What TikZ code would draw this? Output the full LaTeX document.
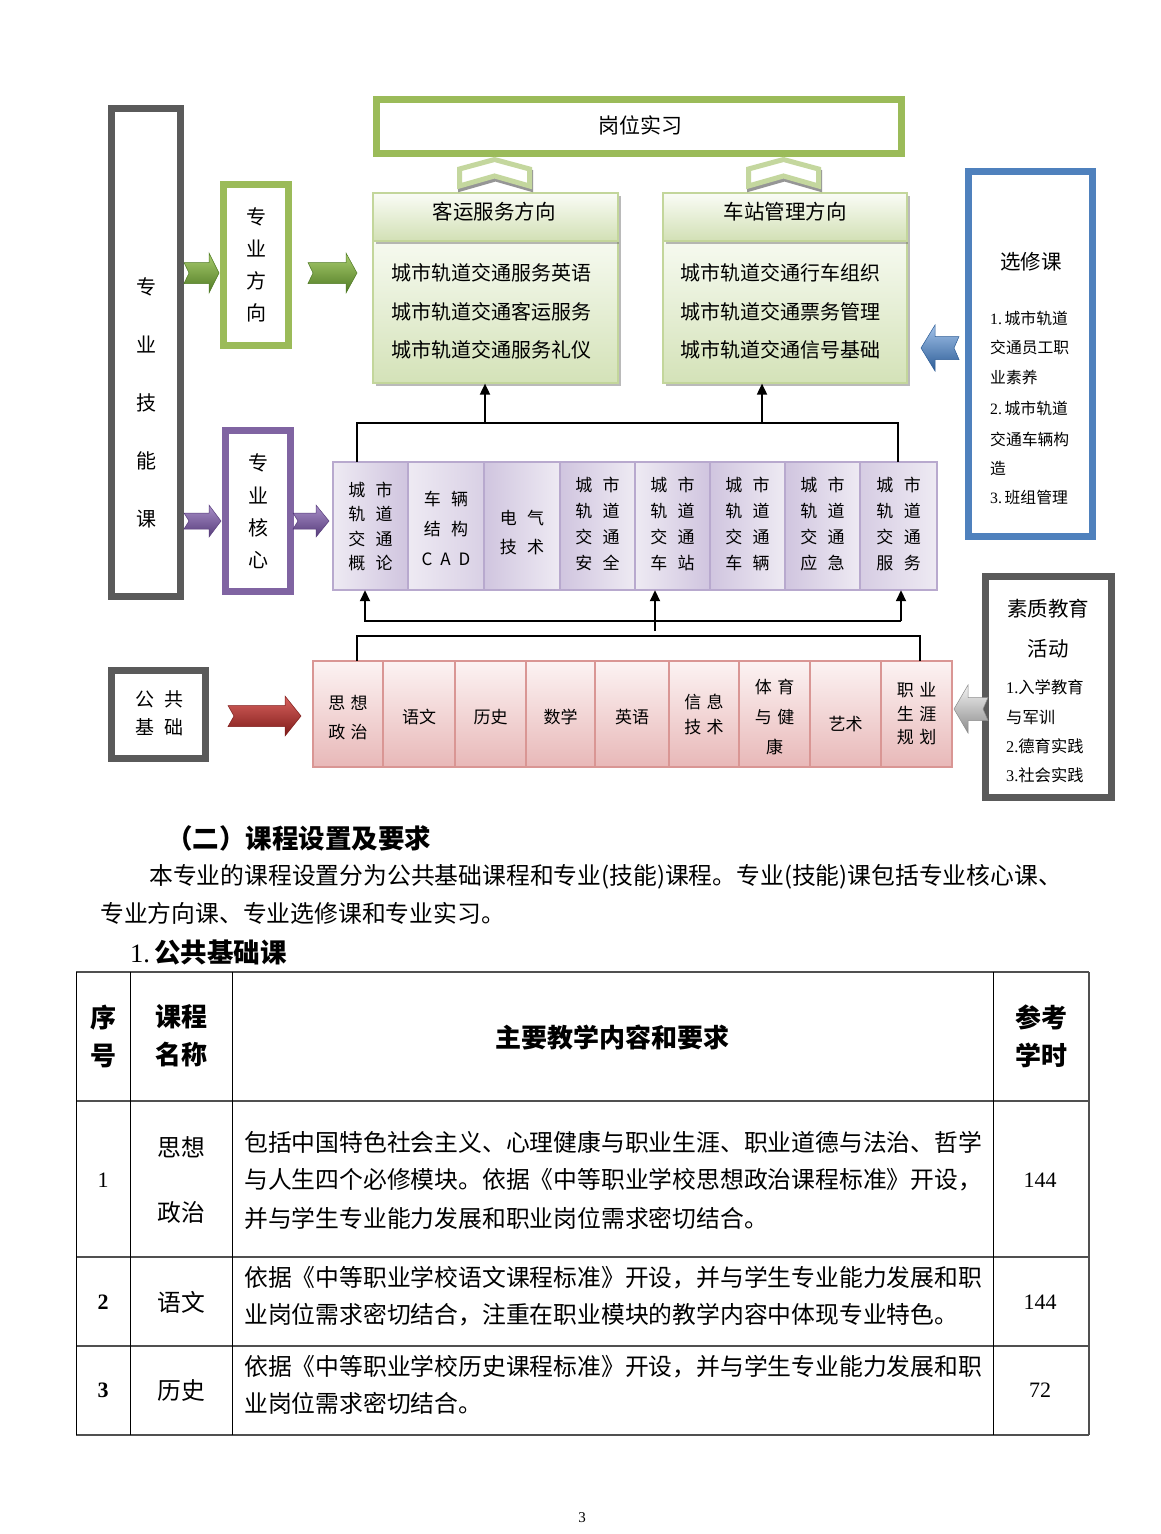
\documentclass[tikz,border=0pt]{standalone}
\usepackage{fontspec}
\setmainfont{Liberation Serif}
\newfontfamily\cjk{Noto Sans CJK SC}
\usetikzlibrary{shadows,arrows.meta,fit,calc}
\definecolor{ggreen}{HTML}{9BBB59}
\definecolor{lgreen}{HTML}{C3D69B}
\definecolor{chevg}{HTML}{C4D79E}
\definecolor{dgray}{HTML}{5A5A5A}
\definecolor{bblue}{HTML}{4F81BD}
\definecolor{ppurple}{HTML}{8064A2}
\definecolor{lpurple}{HTML}{B8A9CE}
\definecolor{pinkb}{HTML}{D99694}
\definecolor{lavtop}{HTML}{EEEAF3}
\definecolor{lavbot}{HTML}{D0C5DF}
\definecolor{pinktop}{HTML}{FCF3F3}
\definecolor{pinkbot}{HTML}{E8B8B8}
\definecolor{grtop}{HTML}{F6FAF0}
\definecolor{grbot}{HTML}{D4E2B8}
\definecolor{hdtop}{HTML}{FAFCF6}
\definecolor{hdbot}{HTML}{D2E0B5}
\definecolor{tgray}{HTML}{505050}
\definecolor{garrT}{HTML}{AACD6E}
\definecolor{garrB}{HTML}{4F7A24}
\definecolor{parrT}{HTML}{A88FC8}
\definecolor{parrB}{HTML}{573C7B}
\definecolor{rarrT}{HTML}{D8625E}
\definecolor{rarrB}{HTML}{7E1B19}
\definecolor{barrT}{HTML}{A3C3EA}
\definecolor{barrB}{HTML}{2C5C96}
\definecolor{sarrT}{HTML}{F2F2F2}
\definecolor{sarrB}{HTML}{8C8C8C}
\tikzset{
  tx/.style={inner sep=0pt, font=\cjk\fontsize{#1}{#1}\selectfont},
  ml/.style 2 args={inner sep=0pt, align=center, font=\cjk\fontsize{#1}{#2}\selectfont},
  conn/.style={line width=1.8pt, black},
  arr/.style={conn, -{Triangle[length=11pt,width=10pt]}},
  hrule/.style={line width=2pt, draw=tgray},
  vrule/.style={line width=1pt, draw=black},
  dirbox/.style={inner sep=0pt, draw=lgreen, line width=1.2pt, top color=grtop, bottom color=grbot,
     drop shadow={shadow xshift=3pt, shadow yshift=-3pt, opacity=.45, fill=black!60}},
  dirhead/.style={dirbox, top color=hdtop, bottom color=hdbot},
  pcell/.style={inner sep=0pt, draw=lpurple, line width=1.2pt},
  kcell/.style={inner sep=0pt, draw=pinkb, line width=1.5pt, top color=pinktop, bottom color=pinkbot},
}
% double frame: name, colour, x1, y1, x2, y2 (outer edges)
\newcommand\dframe[6]{%
  \node[fit={(#3+3.5,#4+3.5) (#5-3.5,#6-3.5)}, inner sep=0pt, draw=#2, line width=7pt, fill=white] (#1) {};
  \draw[#2, line width=1.5pt] ([shift={(6.5,6.5)}]#1.north west) rectangle ([shift={(-6.5,-6.5)}]#1.south east);
}
% block arrow: tail x, tip x, head x, centre y, head half, shaft half, notch, top colour, bottom colour
\newcommand\barr[9]{%
  \shadedraw[top color=#8, bottom color=#9, draw=#9, line width=0.5pt, line join=miter]
   (#1,#4-#6) -- (#3,#4-#6) -- (#3,#4-#5) -- (#2,#4) -- (#3,#4+#5) -- (#3,#4+#6) -- (#1,#4+#6) -- (#1+#7,#4) -- cycle;
}
% up chevron: left x, right x, top y
\newcommand\chev[3]{%
  \draw[black!55, line width=5pt, line join=miter, opacity=.75]
   (#1+3.5,#3+15) -- ({(#1+#2)/2+1},#3+5.5) -- (#2-1.5,#3+15) -- (#2-1.5,#3+32) -- ({(#1+#2)/2+1},#3+22) -- (#1+3.5,#3+32) -- cycle;
  \filldraw[fill=white, draw=chevg, line width=5pt, line join=miter]
   (#1+2.5,#3+12) -- ({(#1+#2)/2},#3+2.5) -- (#2-2.5,#3+12) -- (#2-2.5,#3+29) -- ({(#1+#2)/2},#3+19) -- (#1+2.5,#3+29) -- cycle;
}
\newcommand\cpair[2]{#1\hspace{10.5pt}#2}
\newcommand\kpair[2]{#1\hspace{5.5pt}#2}
\begin{document}
\begin{tikzpicture}[x=1pt,y=-1pt]
\useasboundingbox (0,0) rectangle (1160,1534);
\fill[white] (0,0) rectangle (1160,1534);

% ---------- frames ----------
\dframe{zyjn}{dgray}{108}{105}{184}{600}
\dframe{zyfx}{ggreen}{220}{181}{292}{349}
\dframe{zyhx}{ppurple}{222}{427}{294}{595}
\dframe{gwsx}{ggreen}{373}{96}{905}{157}
\dframe{xxk}{bblue}{965}{168}{1096}{540}
\dframe{gjjc}{dgray}{108}{667}{209}{762}
\dframe{szjy}{dgray}{982}{573}{1115}{801}

% ---------- direction boxes ----------
\node[dirbox, fit={(373,241) (618,383)}] (kb) {};
\node[dirhead, fit={(373,193) (618,241)}] (kh) {};
\node[dirbox, fit={(663,241) (907,383)}] (cb) {};
\node[dirhead, fit={(663,193) (907,241)}] (ch) {};

% ---------- chevrons ----------
\chev{457}{532}{157}
\chev{746}{821}{157}

% ---------- block arrows ----------
\barr{184}{219}{209}{273}{20}{10.5}{5}{garrT}{garrB}
\barr{308}{357}{346}{273}{20}{10.5}{5}{garrT}{garrB}
\barr{184}{221}{209}{521}{16}{8}{5}{parrT}{parrB}
\barr{293}{329}{316}{521}{16}{8}{5}{parrT}{parrB}
\barr{228}{301}{285}{716}{20}{10.5}{6}{rarrT}{rarrB}
\barr{959}{921}{935}{348}{23}{11.5}{-5}{barrT}{barrB}
\barr{988}{954}{968}{709}{24}{11.5}{-5}{sarrT}{sarrB}

% ---------- purple core row ----------
\node[pcell, left color=lavtop, right color=lavbot, fit={(333,462) (408,590)}] (pc1) {};
\node[pcell, left color=lavtop, right color=lavbot!70!lavtop, fit={(408,462) (484,590)}] (pc2) {};
\node[pcell, left color=lavbot, right color=lavtop, fit={(484,462) (560,590)}] (pc3) {};
\node[pcell, left color=lavbot, right color=lavtop, fit={(560,462) (635,590)}] (pc4) {};
\node[pcell, left color=lavtop, right color=lavbot, fit={(635,462) (710,590)}] (pc5) {};
\node[pcell, left color=lavbot, right color=lavtop, fit={(710,462) (785,590)}] (pc6) {};
\node[pcell, left color=lavbot, right color=lavtop, fit={(785,462) (860,590)}] (pc7) {};
\node[pcell, left color=lavbot!80!lavtop, right color=lavtop, fit={(860,462) (937,590)}] (pc8) {};
\node[inner sep=0pt, fit={(333,462) (937,590)}] (prow) {};

% ---------- pink basic row ----------
\node[kcell, fit={(313,661) (383,767)}] (kc1) {};
\node[kcell, fit={(383,661) (455,767)}] (kc2) {};
\node[kcell, fit={(455,661) (526,767)}] (kc3) {};
\node[kcell, fit={(526,661) (595,767)}] (kc4) {};
\node[kcell, fit={(595,661) (669,767)}] (kc5) {};
\node[kcell, fit={(669,661) (739,767)}] (kc6) {};
\node[kcell, fit={(739,661) (810,767)}] (kc7) {};
\node[kcell, fit={(810,661) (881,767)}] (kc8) {};
\node[kcell, fit={(881,661) (952,767)}] (kc9) {};
\node[inner sep=0pt, fit={(313,661) (952,767)}] (krow) {};

% ---------- connectors ----------
\coordinate (tb1) at (357,423);
\coordinate (tb2) at (898,423);
\draw[conn] (tb1 |- prow.north) -- (tb1) -- (tb2) -- (tb2 |- prow.north);
\coordinate (ta1) at (485,423);
\coordinate (ta2) at (762,423);
\draw[arr] (ta1) -- (ta1 |- kb.south);
\draw[arr] (ta2) -- (ta2 |- cb.south);

\coordinate (mb1) at (365,621);
\coordinate (mb2) at (901,621);
\draw[arr] (mb2) -- (mb1) -- (mb1 |- prow.south);
\draw[arr] (mb2) -- (mb2 |- prow.south);
\coordinate (mc) at (655,631);
\draw[arr] (mc) -- (mc |- prow.south);

\coordinate (lb1) at (357,636);
\coordinate (lb2) at (920,636);
\draw[conn] (lb1 |- krow.north) -- (lb1) -- (lb2) -- (lb2 |- krow.north);

% ---------- diagram texts ----------
\node[ml={20}{58}] (tzyjn) at (146,403) {专\\业\\技\\能\\课};
\node[ml={20}{32}] (tzyfx) at (256,265) {专\\业\\方\\向};
\node[ml={20}{32.3}] (tzyhx) at (258,511.5) {专\\业\\核\\心};
\node[tx=21] (tgwsx) at (640,125) {岗位实习};
\node[tx=20.5] (tkh) at (494,212) {客运服务方向};
\node[tx=20.5] (tch) at (785,212) {车站管理方向};
\node[tx=20, anchor=west] (tk1) at (391,273) {城市轨道交通服务英语};
\node[tx=20, anchor=west] (tk2) at (391,312) {城市轨道交通客运服务};
\node[tx=20, anchor=west] (tk3) at (391,350) {城市轨道交通服务礼仪};
\node[tx=20, anchor=west] (tc1) at (680,273) {城市轨道交通行车组织};
\node[tx=20, anchor=west] (tc2) at (680,312) {城市轨道交通票务管理};
\node[tx=20, anchor=west] (tc3) at (680,350) {城市轨道交通信号基础};

\node[tx=20.5] (txxk) at (1031,262) {选修课};
\node[tx=15.8, anchor=west] (te1) at (990,318) {{\rmfamily 1.\,}城市轨道};
\node[tx=15.8, anchor=west] (te2) at (990,347) {交通员工职};
\node[tx=15.8, anchor=west] (te3) at (990,377) {业素养};
\node[tx=15.8, anchor=west] (te4) at (990,408) {{\rmfamily 2.\,}城市轨道};
\node[tx=15.8, anchor=west] (te5) at (990,439) {交通车辆构};
\node[tx=15.8, anchor=west] (te6) at (990,468) {造};
\node[tx=15.8, anchor=west] (te7) at (990,497) {{\rmfamily 3.\,}班组管理};

\node[tx=20.5] (tsz1) at (1048,609) {素质教育};
\node[tx=20.5] (tsz2) at (1048,649) {活动};
\node[tx=16.3, anchor=west] (ts1) at (1006,687) {{\rmfamily 1.}入学教育};
\node[tx=16.3, anchor=west] (ts2) at (1006,717) {与军训};
\node[tx=16.3, anchor=west] (ts3) at (1006,746) {{\rmfamily 2.}德育实践};
\node[tx=16.3, anchor=west] (ts4) at (1006,775) {{\rmfamily 3.}社会实践};

\node[ml={19}{28}] (tgjjc) at (159.5,713) {公\hspace{10pt}共\\基\hspace{10pt}础};

% purple cell texts
\node[ml={17}{24.3}] (tp1) at (370.5,526.5) {\cpair{城}{市}\\\cpair{轨}{道}\\\cpair{交}{通}\\\cpair{概}{论}};
\node[ml={17}{30}] (tp2) at (446,528) {\cpair{车}{辆}\\\cpair{结}{构}\\C\hspace{8pt}A\hspace{8pt}D};
\node[ml={17}{29}] (tp3) at (522,532.5) {\cpair{电}{气}\\\cpair{技}{术}};
\node[ml={17}{26}] (tp4) at (597.5,524) {\cpair{城}{市}\\\cpair{轨}{道}\\\cpair{交}{通}\\\cpair{安}{全}};
\node[ml={17}{26}] (tp5) at (672.5,524) {\cpair{城}{市}\\\cpair{轨}{道}\\\cpair{交}{通}\\\cpair{车}{站}};
\node[ml={17}{26}] (tp6) at (747.5,524) {\cpair{城}{市}\\\cpair{轨}{道}\\\cpair{交}{通}\\\cpair{车}{辆}};
\node[ml={17}{26}] (tp7) at (822.5,524) {\cpair{城}{市}\\\cpair{轨}{道}\\\cpair{交}{通}\\\cpair{应}{急}};
\node[ml={17}{26}] (tp8) at (898.5,524) {\cpair{城}{市}\\\cpair{轨}{道}\\\cpair{交}{通}\\\cpair{服}{务}};

% pink cell texts
\node[ml={17}{29}] (tk1b) at (348,717.5) {\kpair{思}{想}\\\kpair{政}{治}};
\node[tx=17] (tk2b) at (419,717) {语文};
\node[tx=17] (tk3b) at (490.5,717) {历史};
\node[tx=17] (tk4b) at (560.5,717) {数学};
\node[tx=17] (tk5b) at (632,717) {英语};
\node[ml={17}{24.5}] (tk6b) at (704,714.5) {\kpair{信}{息}\\\kpair{技}{术}};
\node[ml={17}{30}] (tk7b) at (774.5,717) {\kpair{体}{育}\\\kpair{与}{健}\\康};
\node[tx=17] (tk8b) at (845.5,724) {艺术};
\node[ml={17}{23.5}] (tk9b) at (916.5,714) {\kpair{职}{业}\\\kpair{生}{涯}\\\kpair{规}{划}};

% ---------- body text ----------
\node[tx=26.5, font=\cjk\bfseries\fontsize{26.5}{26.5}\selectfont, anchor=west] (hd2) at (166,838) {（二）课程设置及要求};
\node[tx=23.8, anchor=west] (para1) at (149,877) {本专业的课程设置分为公共基础课程和专业(技能)课程。专业(技能)课包括专业核心课、};
\node[tx=23.8, anchor=west] (para2) at (100,913) {专业方向课、专业选修课和专业实习。};
\node[tx=26.5, font=\cjk\bfseries\fontsize{26.5}{26.5}\selectfont, anchor=west] (hd3) at (130,952) {{\rmfamily\mdseries 1.\,}公共基础课};

% ---------- table ----------
\draw[hrule] (76,972) -- (1089,972);
\draw[hrule] (76,1101) -- (1089,1101);
\draw[hrule] (76,1257) -- (1089,1257);
\draw[hrule] (76,1346) -- (1089,1346);
\draw[hrule] (76,1435) -- (1089,1435);
\draw[vrule] (76,972) -- (76,1435);
\draw[vrule] (130,972) -- (130,1435);
\draw[vrule] (232,972) -- (232,1435);
\draw[vrule] (993,972) -- (993,1435);
\draw[vrule, line width=1.5pt, draw=tgray] (1089,972) -- (1089,1435);

\node[ml={26}{38}, font=\cjk\bfseries\fontsize{26}{38}\selectfont] (th1) at (103,1036) {序\\号};
\node[ml={26}{38}, font=\cjk\bfseries\fontsize{26}{38}\selectfont] (th2) at (181,1036) {课程\\名称};
\node[tx=26, font=\cjk\bfseries\fontsize{26}{26}\selectfont] (th3) at (612,1037) {主要教学内容和要求};
\node[ml={26}{38}, font=\cjk\bfseries\fontsize{26}{38}\selectfont] (th4) at (1041,1036) {参考\\学时};

\node[inner sep=0pt, font=\fontsize{22}{22}\selectfont] (r1n) at (103,1180) {1};
\node[tx=23.8] (r1a) at (181,1147) {思想};
\node[tx=23.8] (r1b) at (181,1212) {政治};
\node[tx=23.8, anchor=west] (r1l1) at (244,1142) {包括中国特色社会主义、心理健康与职业生涯、职业道德与法治、哲学};
\node[tx=23.8, anchor=west] (r1l2) at (244,1180) {与人生四个必修模块。依据《中等职业学校思想政治课程标准》开设，};
\node[tx=23.8, anchor=west] (r1l3) at (244,1218) {并与学生专业能力发展和职业岗位需求密切结合。};
\node[inner sep=0pt, font=\fontsize{22}{22}\selectfont] (r1h) at (1040,1180) {144};

\node[inner sep=0pt, font=\bfseries\fontsize{22}{22}\selectfont] (r2n) at (103,1302) {2};
\node[tx=23.8] (r2a) at (181,1302) {语文};
\node[tx=23.8, anchor=west] (r2l1) at (244,1278) {依据《中等职业学校语文课程标准》开设，并与学生专业能力发展和职};
\node[tx=23.8, anchor=west] (r2l2) at (244,1315) {业岗位需求密切结合，注重在职业模块的教学内容中体现专业特色。};
\node[inner sep=0pt, font=\fontsize{22}{22}\selectfont] (r2h) at (1040,1302) {144};

\node[inner sep=0pt, font=\bfseries\fontsize{22}{22}\selectfont] (r3n) at (103,1390) {3};
\node[tx=23.8] (r3a) at (181,1390) {历史};
\node[tx=23.8, anchor=west] (r3l1) at (244,1367) {依据《中等职业学校历史课程标准》开设，并与学生专业能力发展和职};
\node[tx=23.8, anchor=west] (r3l2) at (244,1403) {业岗位需求密切结合。};
\node[inner sep=0pt, font=\fontsize{22}{22}\selectfont] (r3h) at (1040,1390) {72};

\node[inner sep=0pt, font=\fontsize{15}{15}\selectfont] (pgno) at (582,1518) {3};
\end{tikzpicture}
\end{document}
